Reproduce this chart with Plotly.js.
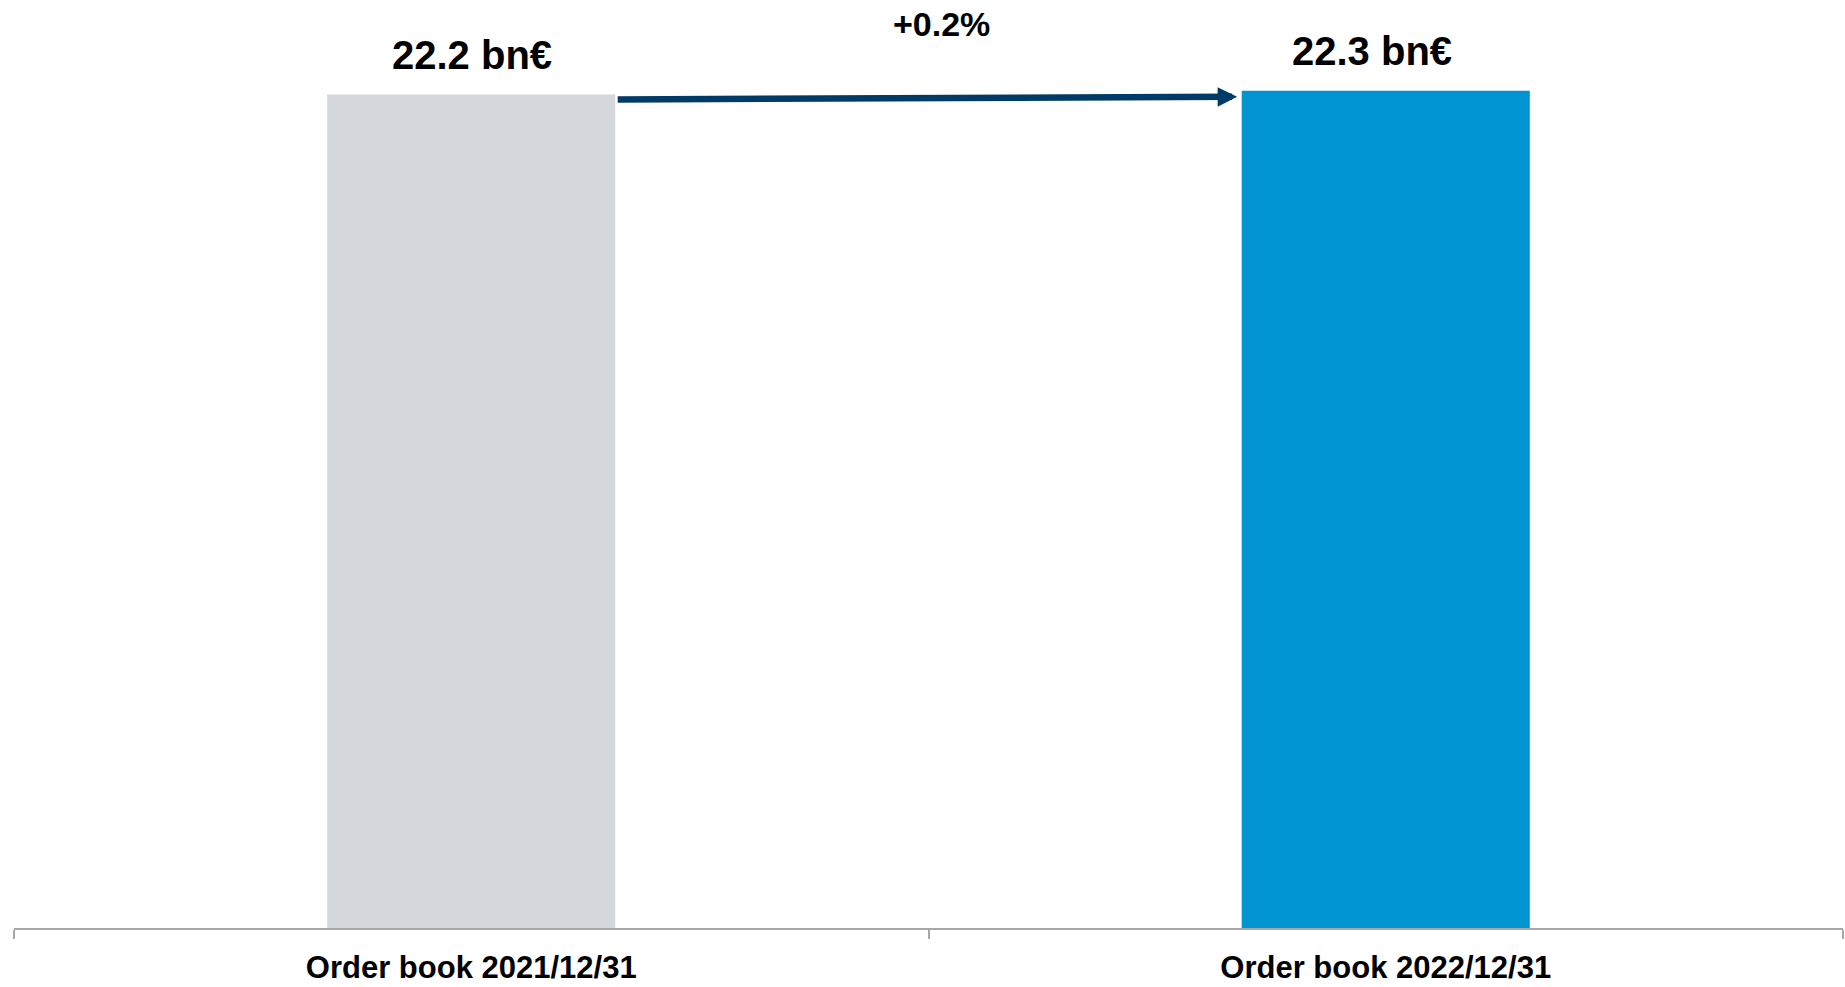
<!DOCTYPE html>
<html>
<head>
<meta charset="utf-8">
<script src="https://cdn.plot.ly/plotly-3.0.1.min.js"></script>
<style>
  html, body { margin: 0; padding: 0; background: #ffffff; }
  #chart { width: 1845px; height: 987px; }
</style>
</head>
<body>
<div id="chart"></div>
<script>
// ---- data ----
const categories = ["Order book 2021/12/31", "Order book 2022/12/31"];
const values = [22.2, 22.3];
const valueLabels = ["22.2 bn€", "22.3 bn€"];
const changeLabel = "+0.2%";
const barColors = ["#D4D8DC", "#0094D0"];

// ---- styling ----
const barWidth = 0.315;
const fontFamily = "'Liberation Sans', Arial, Helvetica, sans-serif";

const trace = {
  type: "bar",
  x: categories,
  y: values,
  width: barWidth,
  marker: { color: barColors, line: { width: 0 } },
  hoverinfo: "skip",
  showlegend: false
};

const annotations = [];
values.forEach((v, i) => {
  annotations.push({
    x: i, y: v, xref: "x", yref: "y",
    text: valueLabels[i],
    showarrow: false,
    xanchor: "center", yanchor: "bottom",
    xshift: i === 1 ? -14 : 1,
    yshift: 16,
    font: { family: fontFamily, size: 40, color: "#000000", weight: "bold" }
  });
});

// arrow from first bar to second bar
annotations.push({
  xref: "x", yref: "y", axref: "x", ayref: "y",
  x: 1 - barWidth / 2 - 0.005, y: values[1] - 0.16,
  ax: 0 + barWidth / 2 + 0.001, ay: values[0] - 0.13,
  text: "",
  showarrow: true,
  arrowhead: 2,
  arrowsize: 0.6,
  arrowwidth: 6.5,
  arrowcolor: "#003A66",
  standoff: 0,
  startstandoff: 0
});

annotations.push({
  x: 0.5, y: values[1] - 0.16, xref: "x", yref: "y",
  text: changeLabel,
  showarrow: false,
  xanchor: "center", yanchor: "bottom",
  xshift: 13, yshift: 52,
  font: { family: fontFamily, size: 34, color: "#000000", weight: "bold" }
});

const layout = {
  width: 1845,
  height: 987,
  margin: { l: 14, r: 2, t: 0, b: 59, pad: 0 },
  paper_bgcolor: "#ffffff",
  plot_bgcolor: "#ffffff",
  bargap: 0.685,
  xaxis: {
    type: "category",
    showline: true,
    linecolor: "#A6A6A6",
    linewidth: 2,
    ticks: "outside",
    tickson: "boundaries",
    ticklen: 9,
    tickwidth: 2,
    tickcolor: "#A6A6A6",
    showgrid: false,
    zeroline: false,
    tickfont: { family: fontFamily, size: 31, color: "#000000", weight: "bold" },
    ticklabelstandoff: 11,
    fixedrange: true
  },
  yaxis: {
    visible: false,
    range: [0, 24.72],
    showgrid: false,
    zeroline: false,
    fixedrange: true
  },
  annotations: annotations
};

Plotly.newPlot("chart", [trace], layout, { displayModeBar: false, staticPlot: true });
</script>
</body>
</html>
